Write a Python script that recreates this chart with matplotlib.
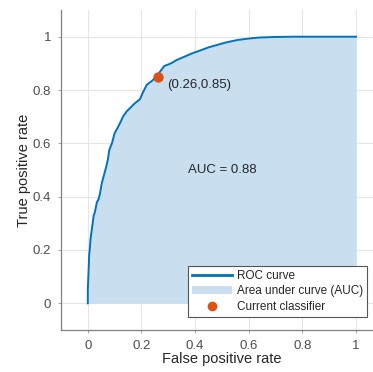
import matplotlib
matplotlib.use("Agg")
import matplotlib.pyplot as plt
from matplotlib.patches import Patch
from matplotlib.lines import Line2D

plt.rcParams["font.family"] = ["Liberation Sans", "DejaVu Sans"]

# ROC curve points
fpr = [0.0, 0.0, 0.002, 0.004, 0.005, 0.007, 0.010, 0.014, 0.018, 0.022, 0.026,
       0.030, 0.034, 0.040, 0.045, 0.052, 0.060, 0.068, 0.075, 0.080, 0.090,
       0.100, 0.112, 0.122, 0.131, 0.145, 0.160, 0.175, 0.194, 0.205, 0.220,
       0.240, 0.256, 0.270, 0.285, 0.310, 0.330, 0.360, 0.390, 0.418, 0.450,
       0.485, 0.517, 0.560, 0.600, 0.640, 0.700, 0.766, 0.850, 1.0]
tpr = [0.0, 0.05, 0.10, 0.15, 0.18, 0.20, 0.24, 0.27, 0.30, 0.33, 0.34,
       0.36, 0.38, 0.39, 0.41, 0.45, 0.48, 0.51, 0.54, 0.575, 0.60,
       0.638, 0.66, 0.68, 0.70, 0.72, 0.735, 0.75, 0.765, 0.79, 0.82,
       0.835, 0.851, 0.87, 0.89, 0.90, 0.912, 0.925, 0.938, 0.948, 0.960,
       0.970, 0.979, 0.988, 0.993, 0.997, 0.999, 1.0, 1.0, 1.0]
current_point = (0.26, 0.85)
auc_value = 0.88

line_c = "#0072BD"
fill_c = "#C9DFEF"
dot_c = "#D95319"
txt_c = "#262626"

fig = plt.figure(figsize=(3.73, 3.72), dpi=100)
ax = fig.add_axes([0.1635, 0.113, 0.863, 0.860])

ax.fill_between(fpr, tpr, 0, color=fill_c, lw=0, zorder=1)
ax.plot(fpr, tpr, color=line_c, lw=1.4, zorder=3)
ax.plot(*current_point, "o", color=dot_c, ms=6.5, zorder=4)
ax.text(current_point[0] + 0.035, current_point[1] - 0.033,
        f"({current_point[0]:.2f},{current_point[1]:.2f})",
        fontsize=9.5, color=txt_c, va="center", ha="left")
ax.text(0.375, 0.5, f"AUC = {auc_value:.2f}", fontsize=9.5, color=txt_c,
        va="center", ha="left")

ax.set_xlim(-0.1, 1.1)
ax.set_ylim(-0.1, 1.1)
ticks = [0, 0.2, 0.4, 0.6, 0.8, 1]
ax.set_xticks(ticks)
ax.set_yticks(ticks)
ax.set_xticklabels(["0", "0.2", "0.4", "0.6", "0.8", "1"])
ax.set_yticklabels(["0", "0.2", "0.4", "0.6", "0.8", "1"])
ax.grid(True, color="#E6E6E6", lw=0.8, zorder=0)
ax.set_axisbelow(True)
for s in ["top", "right"]:
    ax.spines[s].set_visible(False)
for s in ["left", "bottom"]:
    ax.spines[s].set_color("#808080")
    ax.spines[s].set_linewidth(0.9)
ax.tick_params(direction="out", length=2, width=0.6, colors="#999999",
               labelcolor="#4D4D4D", labelsize=9.5, pad=5)
ax.set_xlabel("False positive rate", fontsize=10.5, color=txt_c, labelpad=0)
ax.set_ylabel("True positive rate", fontsize=10.5, color=txt_c, labelpad=1)

handles = [
    Line2D([0], [0], color=line_c, lw=2),
    Patch(facecolor=fill_c, edgecolor="none"),
    Line2D([0], [0], marker="o", color=dot_c, lw=0, ms=6),
]
labels = ["ROC curve", "Area under curve (AUC)", "Current classifier"]
leg = ax.legend(handles, labels, loc="lower left",
                bbox_to_anchor=(0.504, 0.148), bbox_transform=fig.transFigure,
                fontsize=8.5, fancybox=False, framealpha=1, edgecolor="#555555",
                handlelength=3.4, handletextpad=0.4, borderpad=0.35,
                labelspacing=0.3, borderaxespad=0)
leg.get_frame().set_linewidth(0.8)
for t in leg.get_texts():
    t.set_color(txt_c)

fig.savefig("out.png", dpi=100)
